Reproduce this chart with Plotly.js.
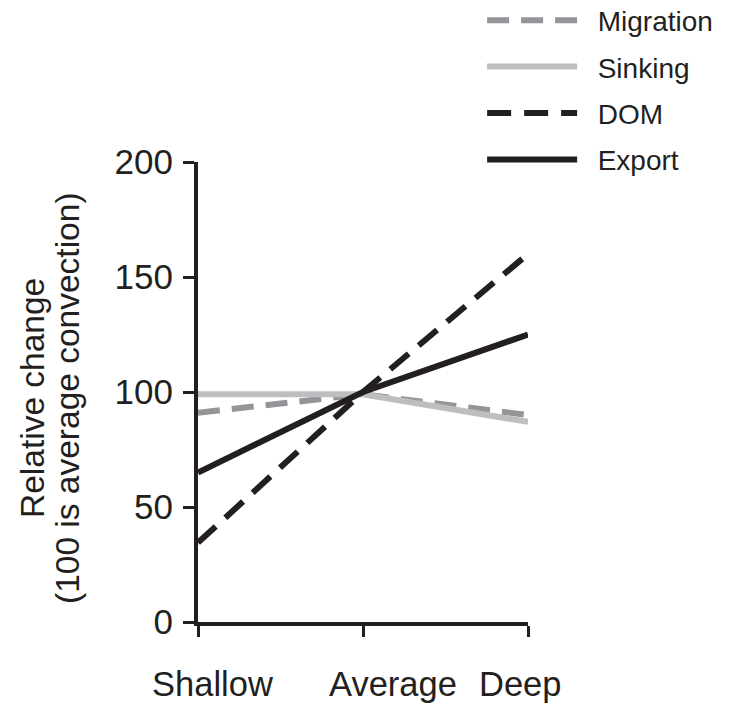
<!DOCTYPE html>
<html>
<head>
<meta charset="utf-8">
<script src="https://cdn.plot.ly/plotly-3.0.1.min.js"></script>
<style>html,body{margin:0;padding:0;background:#fff;}#chart{width:730px;height:703px;}</style>
</head>
<body>
<div id="chart"></div>
<script>
var categories = ["Shallow", "Average", "Deep"];
var migration = [91, 99, 90];
var sinking = [99, 99, 87];
var dom = [34.5, 100, 160];
var exportFlux = [65, 100, 125];
var yTicks = [0, 50, 100, 150, 200];
var yTitleLines = ["Relative change", "(100 is average convection)"];

var dark = "#231f20";
var fontFam = "Liberation Sans, Arial, Helvetica, sans-serif";
var pad = "\u00a0\u00a0";

var traces = [
  {name: pad + "Migration", y: migration, line: {color: "#939598", width: 6, dash: "22px,12px"}, legendgroup: "a"},
  {name: pad + "Sinking", y: sinking, line: {color: "#bcbec0", width: 6}, legendgroup: "b"},
  {name: pad + "DOM", y: dom, line: {color: dark, width: 6, dash: "24px,13px"}, legendgroup: "c"},
  {name: pad + "Export", y: exportFlux, line: {color: dark, width: 6}, legendgroup: "d"}
].map(function (t) {
  t.x = categories; t.type = "scatter"; t.mode = "lines"; return t;
});

var shifts = [14, 30, -8];
var annotations = categories.map(function (c, i) {
  return {x: c, xref: "x", y: 0, yref: "paper", yanchor: "middle", yshift: -62, xshift: shifts[i],
          text: c, showarrow: false, font: {size: 34.5, color: dark, family: fontFam}};
});
var titleShifts = [-166, -131];
yTitleLines.forEach(function (t, i) {
  annotations.push({x: 0, xref: "paper", y: 0.5, yref: "paper", xanchor: "center", yanchor: "middle",
    xshift: titleShifts[i], yshift: -6, textangle: -90, text: t, showarrow: false,
    font: {size: 33.5, color: dark, family: fontFam}});
});

var layout = {
  width: 730, height: 703,
  margin: {l: 198, r: 202, t: 162, b: 81, autoexpand: false},
  paper_bgcolor: "#fff", plot_bgcolor: "#fff",
  font: {family: fontFam, color: dark},
  showlegend: true,
  legend: {x: 0.861, y: 1.362, xanchor: "left", yanchor: "top", itemwidth: 90, tracegroupgap: 7,
           font: {size: 28, color: dark, family: fontFam}, bgcolor: "rgba(0,0,0,0)"},
  xaxis: {type: "category", range: [0, 2], showgrid: false, zeroline: false, showline: true,
          linecolor: dark, linewidth: 4, ticks: "outside", ticklen: 11, tickwidth: 3, tickcolor: dark,
          showticklabels: false},
  yaxis: {range: [0, 200], tickvals: yTicks, showgrid: false, zeroline: false, showline: true,
          linecolor: dark, linewidth: 4, ticks: "outside", ticklen: 11, tickwidth: 3, tickcolor: dark,
          ticklabelstandoff: 3,
          tickfont: {size: 35, color: dark, family: fontFam}},
  annotations: annotations
};

Plotly.newPlot("chart", traces, layout, {displayModeBar: false, staticPlot: true});
</script>
</body>
</html>
